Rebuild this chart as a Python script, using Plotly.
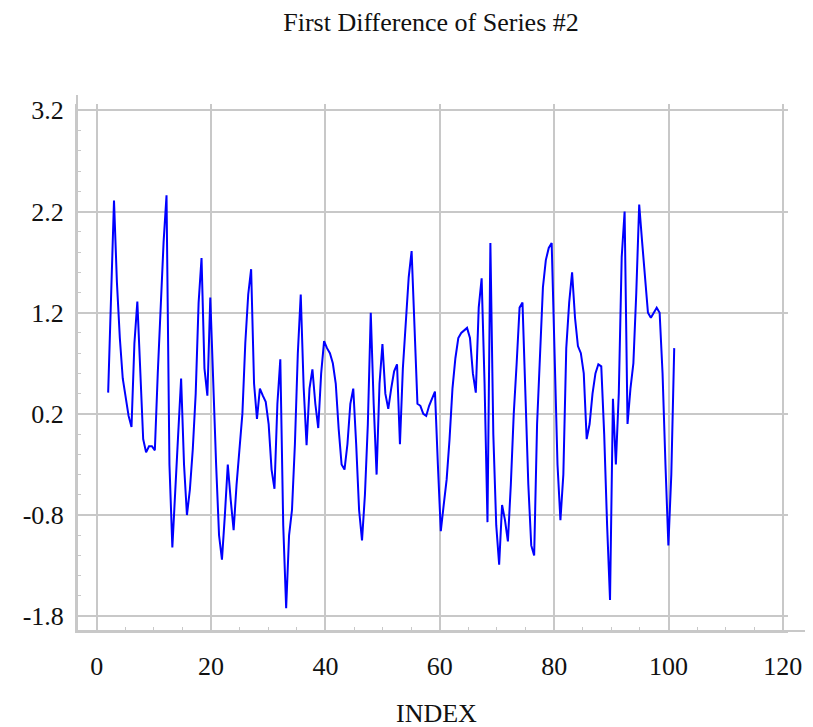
import numpy as np
import plotly.graph_objects as go

# ---- data ----
index_start = 2
index_end = 101
first_diff = [
    0.41, 1.3, 2.31, 1.5, 0.95, 0.55, 0.35, 0.18, 0.07, 0.9,
    1.31, 0.6, -0.05, -0.18, -0.12, -0.12, -0.16, 0.6, 1.3, 1.9,
    2.36, -0.3, -1.12, -0.5, 0.0, 0.55, -0.3, -0.8, -0.55, -0.15,
    0.4, 1.3, 1.74, 0.65, 0.38, 1.35, 0.48, -0.3, -1.0, -1.24,
    -0.8, -0.3, -0.65, -0.95, -0.5, -0.18, 0.2, 0.9, 1.38, 1.63,
    0.5, 0.15, 0.45, 0.38, 0.32, 0.1, -0.35, -0.54, 0.3, 0.74,
    -0.9, -1.72, -1.0, -0.75, -0.1, 0.8, 1.38, 0.46, -0.11, 0.45,
    0.64, 0.3, 0.06, 0.6, 0.92, 0.85, 0.8, 0.7, 0.5, 0.05,
    -0.3, -0.35, -0.1, 0.3, 0.45, -0.1, -0.75, -1.05, -0.6, 0.1,
    1.2, 0.3, -0.4, 0.5, 0.89, 0.4, 0.25, 0.45, 0.62, 0.69,
    -0.1, 0.65, 1.1, 1.55, 1.81, 1.0, 0.3, 0.28, 0.2, 0.18,
    0.28, 0.35, 0.42, -0.3, -0.96, -0.7, -0.45, -0.05, 0.45, 0.75,
    0.95, 1.0, 1.03, 1.05, 0.95, 0.6, 0.41, 1.25, 1.54, 0.5,
    -0.87, 1.89, 0.0, -0.9, -1.29, -0.7, -0.85, -1.06, -0.5, 0.2,
    0.7, 1.25, 1.3, 0.3, -0.5, -1.1, -1.2, 0.1, 0.8, 1.45,
    1.72, 1.84, 1.89, 0.9, -0.3, -0.85, -0.4, 0.85, 1.3, 1.6,
    1.15, 0.87, 0.8, 0.6, -0.05, 0.1, 0.4, 0.6, 0.69, 0.67,
    0.0, -0.9, -1.64, 0.35, -0.3, 0.4, 1.75, 2.2, 0.1, 0.45,
    0.7, 1.4, 2.27, 1.9, 1.5, 1.2, 1.15, 1.2, 1.25, 1.2,
    0.6, -0.3, -1.1, -0.4, 0.85,
]
x_tick_vals = [0, 20, 40, 60, 80, 100, 120]
x_tick_text = ["0", "20", "40", "60", "80", "100", "120"]
y_tick_vals = [-1.8, -0.8, 0.2, 1.2, 2.2, 3.2]
y_tick_text = ["-1.8", "-0.8", "0.2", "1.2", "2.2", "3.2"]

index = np.linspace(index_start, index_end, len(first_diff))

FONT = "Liberation Serif, Times New Roman, serif"
GRID = "#c8c8c8"
FS = 26

fig = go.Figure()
fig.add_trace(go.Scatter(
    x=index, y=first_diff, mode="lines",
    line=dict(color="#0000ff", width=2),
    showlegend=False, hoverinfo="skip",
))

fig.update_layout(
    width=813, height=727,
    margin=dict(l=77, r=25, t=104, b=96, autoexpand=False),
    paper_bgcolor="white", plot_bgcolor="white",
    font=dict(family=FONT, size=FS, color="#111111"),
    title=dict(text="First Difference of Series #2", x=431 / 813, xref="container",
               xanchor="center", y=1 - 22 / 727, yref="container", yanchor="middle",
               automargin=False,
               font=dict(family=FONT, size=FS, color="#111111")),
    xaxis=dict(
        range=[-3.45, 120.9], tickvals=x_tick_vals, ticktext=x_tick_text,
        showgrid=True, gridcolor=GRID, gridwidth=2,
        showline=True, linecolor=GRID, linewidth=2,
        ticks="", ticklabelstandoff=11, zeroline=False, automargin=False,
        minor=dict(dtick=5, tick0=0, ticks="inside", ticklen=4, tickcolor=GRID,
                   tickwidth=1, showgrid=False),
        tickfont=dict(family=FONT, size=FS),
    ),
    yaxis=dict(
        range=[-1.946, 3.263], tickvals=y_tick_vals, ticktext=y_tick_text,
        showgrid=True, gridcolor=GRID, gridwidth=2,
        showline=True, linecolor=GRID, linewidth=2,
        ticks="", ticklabelstandoff=6, zeroline=False, automargin=False,
        minor=dict(dtick=0.2, tick0=0.2, ticks="inside", ticklen=4, tickcolor=GRID,
                   tickwidth=1, showgrid=False),
        tickfont=dict(family=FONT, size=FS),
    ),
    annotations=[dict(text="INDEX", xref="paper", yref="paper",
                      x=(436 - 77) / 711, y=(631 - 713) / 527,
                      xanchor="center", yanchor="middle", showarrow=False,
                      font=dict(family=FONT, size=FS, color="#111111"))],
    shapes=[
        dict(type="line", xref="paper", yref="paper", x0=0, x1=(805 - 77) / 711,
             y0=0, y1=0, line=dict(color=GRID, width=2)),
        dict(type="line", xref="paper", yref="paper", x0=0, x1=0,
             y0=0, y1=1 + 9 / 527, line=dict(color=GRID, width=2)),
    ],
)

fig.write_html("out.html", config={"displayModeBar": False},
               post_script="document.body.style.margin='0';document.body.style.overflow='hidden';")
